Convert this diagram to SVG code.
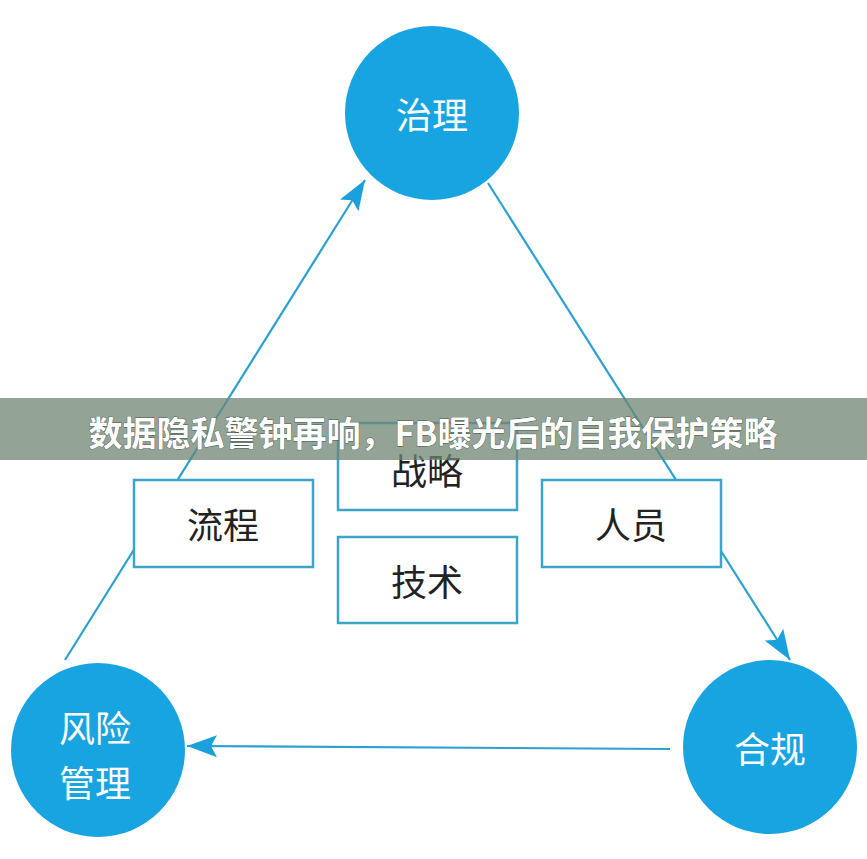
<svg xmlns="http://www.w3.org/2000/svg" width="867" height="859" viewBox="0 0 867 859">
<style>
.circ{fill:#18a4e1}
.ct{fill:#fff;font-family:"Noto Sans CJK SC","Noto Sans",sans-serif;font-size:36px;text-anchor:middle;dominant-baseline:central}
.box{fill:#fff;stroke:#3ba5c8;stroke-width:2.5}
.bt{fill:#222;font-family:"Noto Sans CJK SC","Noto Sans",sans-serif;font-size:36px;text-anchor:middle;dominant-baseline:central}
.ln{stroke:#2aa1d2;stroke-width:2.2;fill:none}
</style>
<defs>
<marker id="ah" viewBox="0 0 30 22" refX="30" refY="11" markerWidth="30" markerHeight="22" markerUnits="userSpaceOnUse" orient="auto">
<path d="M0,0 L30,11 L0,22 L6,11 Z" fill="#1aa0dc"/>
</marker>
</defs>
<rect width="867" height="859" fill="#fff"/>
<g id="connectors">
<line class="ln" x1="65" y1="660" x2="365" y2="180" marker-end="url(#ah)"/>
<line class="ln" x1="488" y1="183" x2="790" y2="660" marker-end="url(#ah)"/>
<line class="ln" x1="670" y1="749" x2="187" y2="746" marker-end="url(#ah)"/>
</g>
<g id="node-zhili"><circle class="circ" cx="432" cy="113" r="87"/><text class="ct" x="432" y="113">治理</text></g>
<g id="node-fengxian"><circle class="circ" cx="98" cy="750" r="87"/><text class="ct" x="95" y="726">风险</text><text class="ct" x="95" y="781">管理</text></g>
<g id="node-hegui"><circle class="circ" cx="770" cy="747" r="87"/><text class="ct" x="770" y="747">合规</text></g>
<g id="node-liucheng"><rect class="box" x="134" y="480" width="179" height="87"/><text class="bt" x="223" y="523">流程</text></g>
<g id="node-zhanlue"><rect class="box" x="338" y="423" width="179" height="87"/><text class="bt" x="427" y="469">战略</text></g>
<g id="node-jishu"><rect class="box" x="338" y="537" width="179" height="86"/><text class="bt" x="427" y="580">技术</text></g>
<g id="node-renyuan"><rect class="box" x="542" y="480" width="179" height="87"/><text class="bt" x="631" y="523">人员</text></g>
<g id="banner">
<rect x="0" y="398" width="867" height="62" fill="#6f8674" fill-opacity="0.75"/>
<text x="433" y="431" fill="#fff" stroke="#4a5a4e" stroke-width="0.8" paint-order="stroke" font-family="Noto Sans CJK SC,sans-serif" font-weight="bold" font-size="34" text-anchor="middle" dominant-baseline="central">数据隐私警钟再响，FB曝光后的自我保护策略</text>
</g>
</svg>
